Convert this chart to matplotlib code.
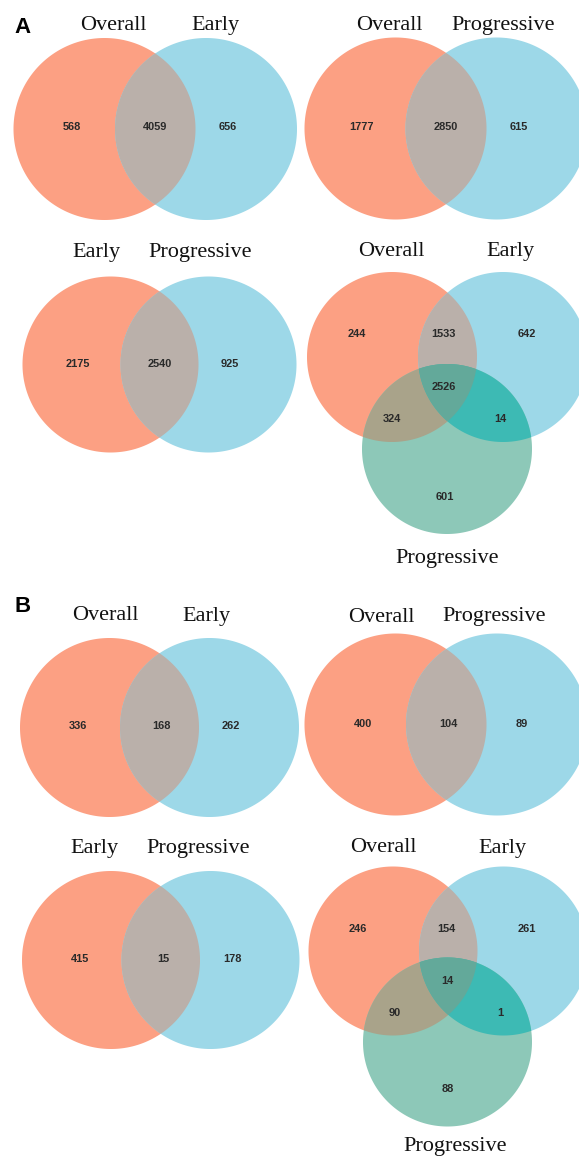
import numpy as np
import matplotlib
matplotlib.use("Agg")
import matplotlib.pyplot as plt
from matplotlib.patches import Polygon

# ---- data: region counts for each Venn diagram ----
# two-set diagrams: (left only, both, right only)
A_overall_early = [568, 4059, 656]
A_overall_prog = [1777, 2850, 615]
A_early_prog = [2175, 2540, 925]
# three-set diagrams: (O only, O&E, E only, O&E&P, O&P, E&P, P only)
A_three = [244, 1533, 642, 2526, 324, 14, 601]

B_overall_early = [336, 168, 262]
B_overall_prog = [400, 104, 89]
B_early_prog = [415, 15, 178]
B_three = [246, 154, 261, 14, 90, 1, 88]

# ---- colours ----
C_LEFT = "#FCA083"
C_RIGHT = "#9DD8E8"
C_LR = "#BAB0AA"
C_BOTTOM = "#8DC8B8"
C_LB = "#A9A38A"
C_RB = "#3DBAB4"
C_ALL = "#63A99A"
NUM_COLOR = "#2a2a2a"

W, H = 579, 1157
fig = plt.figure(figsize=(W / 100, H / 100), dpi=100)
ax = fig.add_axes([0, 0, 1, 1])
ax.set_xlim(0, W)
ax.set_ylim(H, 0)
ax.axis("off")

SERIF = ["Liberation Serif", "DejaVu Serif"]
SANS = ["Liberation Sans", "DejaVu Sans"]


def circle_poly(cx, cy, r, n=360):
    t = np.linspace(0, 2 * np.pi, n, endpoint=False)
    return np.column_stack([cx + r * np.cos(t), cy + r * np.sin(t)])


def _inter(p1, p2, a, b):
    x1, y1 = p1
    x2, y2 = p2
    x3, y3 = a
    x4, y4 = b
    den = (x1 - x2) * (y3 - y4) - (y1 - y2) * (x3 - x4)
    t = ((x1 - x3) * (y3 - y4) - (y1 - y3) * (x3 - x4)) / den
    return np.array([x1 + t * (x2 - x1), y1 + t * (y2 - y1)])


def clip(subject, clipper):
    """Sutherland-Hodgman clipping of a polygon by a convex polygon."""
    def side(p, a, b):
        return (b[0] - a[0]) * (p[1] - a[1]) - (b[1] - a[1]) * (p[0] - a[0])

    area = np.sum(clipper[:, 0] * np.roll(clipper[:, 1], -1)
                  - np.roll(clipper[:, 0], -1) * clipper[:, 1])
    sgn = 1.0 if area > 0 else -1.0
    out = list(subject)
    m = len(clipper)
    for i in range(m):
        a, b = clipper[i], clipper[(i + 1) % m]
        inp = out
        out = []
        if not inp:
            break
        s = inp[-1]
        for e in inp:
            ein = sgn * side(e, a, b) >= 0
            sin_ = sgn * side(s, a, b) >= 0
            if ein:
                if not sin_:
                    out.append(_inter(s, e, a, b))
                out.append(e)
            elif sin_:
                out.append(_inter(s, e, a, b))
            s = e
    return np.array(out)


def fill(poly, color):
    if len(poly) >= 3:
        ax.add_patch(Polygon(poly, closed=True, facecolor=color,
                             edgecolor="none", antialiased=True))


def number(x, y, v):
    ax.text(x, y, str(v), ha="center", va="center", fontsize=7.9,
            fontweight="bold", family=SANS, color=NUM_COLOR)


def title(x, y, s):
    # y is the text baseline
    ax.text(x, y, s, ha="center", va="baseline", fontsize=16,
            family=SERIF, color="#111111")


def venn2(c1, c2, r, counts, names, name_pos, num_pos):
    p1 = circle_poly(c1[0], c1[1], r)
    p2 = circle_poly(c2[0], c2[1], r)
    fill(p1, C_LEFT)
    fill(p2, C_RIGHT)
    fill(clip(p2, p1), C_LR)
    for (x, y), s in zip(name_pos, names):
        title(x, y, s)
    for (x, y), v in zip(num_pos, counts):
        number(x, y, v)


def venn3(c1, c2, c3, r, counts, names, name_pos, num_pos):
    p1 = circle_poly(c1[0], c1[1], r)
    p2 = circle_poly(c2[0], c2[1], r)
    p3 = circle_poly(c3[0], c3[1], r)
    fill(p1, C_LEFT)
    fill(p2, C_RIGHT)
    fill(p3, C_BOTTOM)
    fill(clip(p2, p1), C_LR)
    fill(clip(p3, p1), C_LB)
    fill(clip(p3, p2), C_RB)
    fill(clip(clip(p3, p1), p2), C_ALL)
    for (x, y), s in zip(name_pos, names):
        title(x, y, s)
    for (x, y), v in zip(num_pos, counts):
        number(x, y, v)


# ---------------- panel A ----------------
ax.text(14, 33, "A", ha="left", va="baseline", fontsize=16,
        fontweight="bold", family=SANS, color="black")

venn2((104.5, 129), (206, 129), 91, A_overall_early,
      ["Overall", "Early"], [(113, 30), (215, 30)],
      [(72, 127), (155, 127), (228, 127)])

venn2((395.5, 128.5), (496.5, 128.5), 91, A_overall_prog,
      ["Overall", "Progressive"], [(389.5, 30), (503, 30)],
      [(362, 127), (446, 127), (518.5, 127)])

venn2((110.5, 364.5), (208.5, 364.5), 88, A_early_prog,
      ["Early", "Progressive"], [(96, 257.5), (200, 257.5)],
      [(77.5, 364), (159.5, 364), (230, 364)])

venn3((392, 357), (503, 357), (447, 449), 85, A_three,
      ["Overall", "Early", "Progressive"],
      [(391.5, 256), (510, 256), (447, 563)],
      [(356.5, 334), (443.5, 334), (526.5, 334), (443.5, 387),
       (391.5, 419.5), (500, 419.5), (445, 497)])

# ---------------- panel B ----------------
ax.text(14, 612.5, "B", ha="left", va="baseline", fontsize=16,
        fontweight="bold", family=SANS, color="black")

venn2((109.5, 727.5), (209.5, 727.5), 89.5, B_overall_early,
      ["Overall", "Early"], [(105, 620.5), (206.5, 620.5)],
      [(77.5, 726), (161, 726), (231, 726)])

venn2((395.5, 724.5), (497, 724.5), 91, B_overall_prog,
      ["Overall", "Progressive"], [(381.5, 621.5), (494.5, 621.5)],
      [(363.5, 724), (448, 724), (521.5, 724)])

venn2((111, 960), (210.5, 960), 89, B_early_prog,
      ["Early", "Progressive"], [(94, 853.5), (198, 853.5)],
      [(80, 958.5), (163.5, 958.5), (232.5, 958.5)])

venn3((393, 951), (503.5, 951), (447.5, 1042), 84.5, B_three,
      ["Overall", "Early", "Progressive"],
      [(383, 852.5), (502, 852.5), (455.5, 1151)],
      [(358, 928.5), (446.5, 928.5), (526.5, 928.5), (447.5, 981),
       (395, 1012.5), (500.5, 1012.5), (447.5, 1089.5)])

fig.savefig("out.png", dpi=100, facecolor="white")
